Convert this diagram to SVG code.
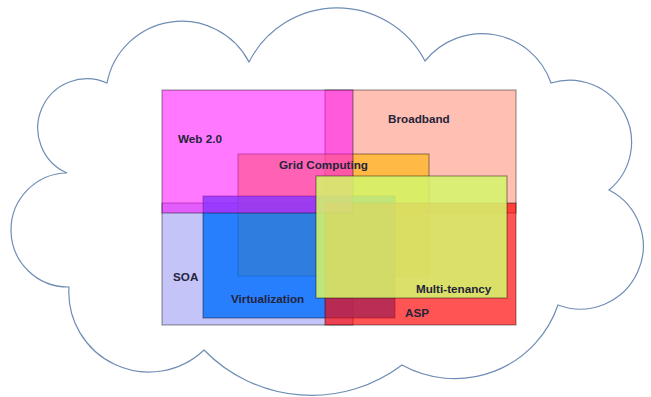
<svg xmlns="http://www.w3.org/2000/svg" width="651" height="397" viewBox="0 0 651 397">
<style>
.n rect{stroke:#000;stroke-opacity:.38;stroke-width:1.2}
.lbl{font-family:"Liberation Sans",Arial,sans-serif;font-weight:bold;font-size:11.7px;fill:#24243a}
</style>
<rect width="651" height="397" fill="#fff"/>
<g id="cloud">
<path d="M67,173 A49,49 0 0 1 107,83 A76,76 0 0 1 249,62 A99,99 0 0 1 425,61 A73,73 0 0 1 551,83 A62,62 0 0 1 609,190 A63,63 0 0 1 558,305 A109,109 0 0 1 402,365 A150,150 0 0 1 204,350 A80,80 0 0 1 69,287 A57,57 0 0 1 67,173 Z" fill="#fff" stroke="#6F8DB5" stroke-width="1.2"/>
</g>
<g id="connectors"/>
<g id="node-broadband" class="n"><rect x="325" y="90" width="191" height="123" fill="#FF8066" fill-opacity=".5"/></g>
<g id="node-soa" class="n"><rect x="162" y="203" width="191" height="122" fill="#8989F2" fill-opacity=".5"/></g>
<g id="node-grid" class="n"><rect x="238" y="154" width="191" height="122" fill="#FFB400" fill-opacity=".62"/></g>
<g id="node-virtualization" class="n"><rect x="203" y="196" width="192" height="122" fill="#006EFF" fill-opacity=".8"/></g>
<g id="node-asp" class="n"><rect x="325" y="203" width="191" height="122" fill="#FF0000" fill-opacity=".67"/></g>
<g id="node-web20" class="n"><rect x="162" y="90" width="191" height="123" fill="#FF00FF" fill-opacity=".53"/></g>
<g id="node-multitenancy" class="n"><rect x="316" y="176" width="191" height="122" fill="#D5F46B" fill-opacity=".88"/></g>
<g id="labels">
<text id="label-web20" class="lbl" x="178" y="143">Web 2.0</text>
<text id="label-broadband" class="lbl" x="388" y="123">Broadband</text>
<text id="label-grid" class="lbl" x="279" y="169">Grid Computing</text>
<text id="label-soa" class="lbl" x="173" y="281">SOA</text>
<text id="label-virtualization" class="lbl" x="231" y="303">Virtualization</text>
<text id="label-multitenancy" class="lbl" x="416" y="293">Multi-tenancy</text>
<text id="label-asp" class="lbl" x="405" y="317">ASP</text>
</g>
</svg>
